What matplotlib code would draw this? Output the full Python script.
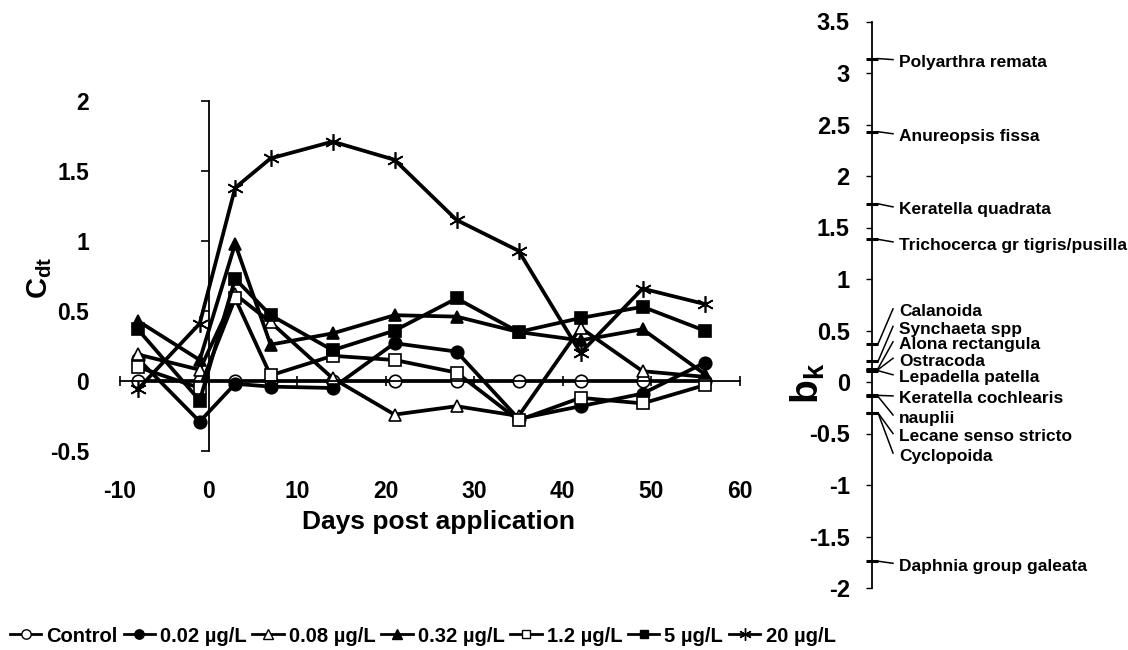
import matplotlib
matplotlib.use('Agg')
import matplotlib.pyplot as plt
from matplotlib.lines import Line2D
from matplotlib.ticker import MultipleLocator, FormatStrFormatter

plt.rcParams['font.family'] = ['Liberation Sans', 'DejaVu Sans']
plt.rcParams['font.weight'] = 'bold'
plt.rcParams['axes.unicode_minus'] = False
plt.rcParams['mathtext.fontset'] = 'custom'
plt.rcParams['mathtext.rm'] = 'Liberation Sans:bold'
plt.rcParams['mathtext.bf'] = 'Liberation Sans:bold'
plt.rcParams['mathtext.it'] = 'Liberation Sans:bold'

# PRC data: canonical coefficients per treatment
days = [-8, -1, 3, 7, 14, 21, 28, 35, 42, 49, 56]
control = [0, 0, 0, 0, 0, 0, 0, 0, 0, 0, 0]
c002 = [0.16, -0.29, -0.02, -0.04, -0.05, 0.27, 0.21, -0.27, -0.18, -0.09, 0.13]
c008 = [0.19, 0.08, 0.62, 0.42, 0.02, -0.24, -0.18, -0.25, 0.38, 0.07, 0.03]
c032 = [0.43, 0.15, 0.98, 0.26, 0.34, 0.47, 0.46, 0.35, 0.29, 0.37, 0.05]
c12 = [0.10, -0.05, 0.59, 0.04, 0.18, 0.15, 0.06, -0.28, -0.12, -0.16, -0.03]
c5 = [0.37, -0.14, 0.73, 0.47, 0.22, 0.36, 0.59, 0.35, 0.45, 0.53, 0.36]
c20 = [-0.06, 0.41, 1.38, 1.59, 1.71, 1.58, 1.15, 0.93, 0.20, 0.66, 0.55]

series_labels = ['Control', '0.02 µg/L', '0.08 µg/L', '0.32 µg/L', '1.2 µg/L', '5 µg/L', '20 µg/L']

# species weights
species = ['Polyarthra remata', 'Anureopsis fissa', 'Keratella quadrata',
           'Trichocerca gr tigris/pusilla', 'Calanoida', 'Synchaeta spp',
           'Alona rectangula', 'Ostracoda', 'Lepadella patella',
           'Keratella cochlearis', 'nauplii', 'Lecane senso stricto',
           'Cyclopoida', 'Daphnia group galeata']
bk = [3.14, 2.43, 1.73, 1.385, 0.37, 0.20, 0.13, 0.12, 0.11,
      -0.13, -0.14, -0.30, -0.30, -1.74]
# where the species names sit (spread out so they don't overlap)
label_y = [3.10, 2.38, 1.67, 1.33, 0.68, 0.51, 0.36, 0.20, 0.04,
           -0.165, -0.35, -0.53, -0.72, -1.79]

fig = plt.figure(figsize=(11.28, 6.5), dpi=100)

# ---- left panel: Cdt over time ----
ax = fig.add_axes([120 / 1128, 199 / 650, 620 / 1128, 350 / 650])
ax.set_xlim(-10, 60)
ax.set_ylim(-0.5, 2)
ax.spines['top'].set_visible(False)
ax.spines['right'].set_visible(False)
ax.spines['left'].set_position(('data', 0))
ax.spines['bottom'].set_position(('data', 0))
ax.spines['left'].set_linewidth(1.3)
ax.spines['bottom'].set_linewidth(1.3)
ax.xaxis.set_major_locator(MultipleLocator(10))
ax.yaxis.set_major_locator(MultipleLocator(0.5))
ax.yaxis.set_major_formatter(FormatStrFormatter('%g'))
ax.tick_params(axis='x', direction='inout', length=7, width=1.2, pad=68, labelsize=16.5)
ax.tick_params(axis='y', direction='out', length=6, width=1.2, pad=80, labelsize=16.5)
for lab in ax.get_xticklabels() + ax.get_yticklabels():
    lab.set_fontweight('bold')

lw = 2.7
ms = 9
styles = [
    (control, dict(marker='o', mfc='white', ms=ms)),
    (c002, dict(marker='o', mfc='black', ms=ms)),
    (c008, dict(marker='^', mfc='white', ms=ms)),
    (c032, dict(marker='^', mfc='black', ms=ms)),
    (c12, dict(marker='s', mfc='white', ms=ms - 0.5)),
    (c5, dict(marker='s', mfc='black', ms=ms - 0.5)),
    (c20, dict(marker=(6, 2, 0), mfc='black', ms=ms + 3)),
]
handles = []
for vals, st in styles:
    ax.plot(days, vals, color='black', lw=lw, mec='black', mew=1.2, clip_on=False, **st)
    handles.append(Line2D([], [], color='black', lw=2, mec='black', mew=1.0,
                          marker=st['marker'], mfc=st['mfc'], ms=st['ms'] * 0.75))

fig.text(438 / 1128, 1 - 522 / 650, 'Days post application', ha='center', va='center',
         fontsize=19, fontweight='bold')
fig.text(40 / 1128, 1 - 278 / 650, r'$\mathbf{C_{dt}}$', ha='center', va='center',
         rotation=90, fontsize=21)

# ---- right panel: species weights bk ----
ax2 = fig.add_axes([872 / 1128, 62 / 650, 250 / 1128, 566.5 / 650])
ax2.set_xlim(0, 250)
ax2.set_ylim(-2, 3.5)
for s in ['top', 'right', 'bottom']:
    ax2.spines[s].set_visible(False)
ax2.spines['left'].set_linewidth(1.3)
ax2.set_xticks([])
ax2.yaxis.set_major_locator(MultipleLocator(0.5))
ax2.yaxis.set_major_formatter(FormatStrFormatter('%g'))
ax2.tick_params(axis='y', direction='out', length=4, width=1.0, pad=12, labelsize=17)
for lab in ax2.get_yticklabels():
    lab.set_fontweight('bold')

for name, b, ly in zip(species, bk, label_y):
    ax2.plot([-6, 6], [b, b], color='black', lw=2.2, clip_on=False, solid_capstyle='butt')
    ax2.plot([6, 21], [b, ly + 0.03], color='black', lw=1.1, clip_on=False)
    ax2.text(27, ly, name, ha='left', va='center', fontsize=12.5, fontweight='bold')

fig.text(808 / 1128, 1 - 383 / 650, r'$\mathbf{b_k}$', ha='center', va='center',
         rotation=90, fontsize=28)

# ---- legend along the bottom ----
leg = fig.legend(handles, series_labels, loc='center left', bbox_to_anchor=(6 / 1128, 14 / 650),
                 ncol=7, frameon=False, handlelength=1.55, handletextpad=0.25,
                 columnspacing=0.3, borderaxespad=0, borderpad=0.2,
                 prop={'weight': 'bold', 'size': 14.5})

fig.savefig('out.png', dpi=100)
